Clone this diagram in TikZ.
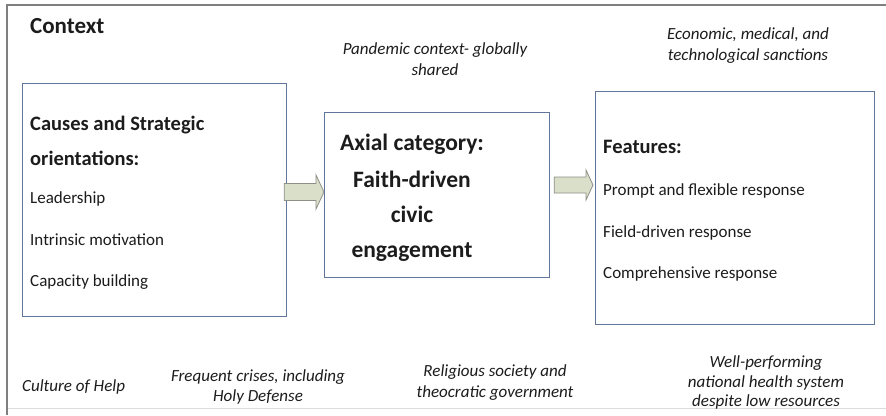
\documentclass[tikz,border=0pt]{standalone}
\usepackage{fontspec}
\setmainfont{Carlito}
\usetikzlibrary{calc}
\definecolor{boxline}{HTML}{61769B}
\definecolor{arrowfill}{HTML}{D9DFC8}
\definecolor{arrowline}{HTML}{8E9088}
\definecolor{framegray}{HTML}{7F7F7F}
\definecolor{framelight}{HTML}{DCDCDC}
\definecolor{ink}{HTML}{1C1C1C}
\begin{document}
\begin{tikzpicture}[x=1pt,y=-1pt,
  panel/.style={draw=boxline,line width=1.2pt,fill=white,inner sep=0pt,anchor=north west},
  title/.style={anchor=base west,inner sep=0pt,font=\fontsize{23}{28}\selectfont\bfseries,text=ink},
  boxhead/.style={anchor=base west,inner sep=0pt,font=\fontsize{20.5}{24}\selectfont\bfseries,text=ink},
  item/.style={anchor=base west,inner sep=0pt,font=\fontsize{17}{20}\selectfont,text=ink},
  axial/.style={anchor=base,inner sep=0pt,font=\fontsize{23.5}{28}\selectfont\bfseries,text=ink},
  note/.style={anchor=base,inner sep=0pt,font=\fontsize{17}{21}\selectfont\itshape,text=ink},
  blockarrow/.style={fill=arrowfill,draw=arrowline,line width=0.8pt,line join=miter}]
\useasboundingbox (0,0) rectangle (886,415);
\fill[white] (0,0) rectangle (886,415);

% outer context frame
\draw[framelight,line width=1pt] (7,408) -- (886,408);
\draw[framegray,line width=2pt] (7,415) -- (7,5) -- (886,5);

\node[title] (ctx) at (30,33) {Context};

% the three panels
\node[panel,minimum width=264pt,minimum height=233pt] (cbox) at (22,83) {};
\node[panel,minimum width=225pt,minimum height=165pt] (abox) at (324,112) {};
\node[panel,minimum width=279pt,minimum height=233pt] (fbox) at (595,91) {};

% block arrows between the panels
\draw[blockarrow] let \p1=(cbox.east), \p2=(abox.west) in
  (\x1-3pt,-183.5pt) -- (\x2-8pt,-183.5pt) -- (\x2-8pt,-175pt) -- (\x2,-192pt)
  -- (\x2-8pt,-209pt) -- (\x2-8pt,-200.5pt) -- (\x1-3pt,-200.5pt) -- cycle;
\draw[blockarrow] let \p1=(abox.east), \p2=(fbox.west) in
  (\x1+4pt,-177pt) -- (\x2-9pt,-177pt) -- (\x2-9pt,-170pt) -- (\x2-2pt,-185pt)
  -- (\x2-9pt,-200pt) -- (\x2-9pt,-193pt) -- (\x1+4pt,-193pt) -- cycle;

% causes panel
\node[boxhead] (c1) at (30,130) {Causes and Strategic};
\node[boxhead] (c2) at (30,165) {orientations:};
\node[item] (c3) at (30,203) {Leadership};
\node[item] (c4) at (30,245) {Intrinsic motivation};
\node[item] (c5) at (30,286) {Capacity building};

% axial category panel
\node[axial] (a1) at (412,150) {Axial category:};
\node[axial] (a2) at (412,187) {Faith-driven};
\node[axial] (a3) at (412,222) {civic};
\node[axial] (a4) at (412,257) {engagement};

% features panel
\node[boxhead] (f1) at (603,153) {Features:};
\node[item] (f2) at (603,195) {Prompt and flexible response};
\node[item] (f3) at (603,237) {Field-driven response};
\node[item] (f4) at (603,278) {Comprehensive response};

% contextual conditions
\node[note] (p1) at (435,54) {Pandemic context- globally};
\node[note] (p2) at (435,75) {shared};
\node[note] (e1) at (748,39) {Economic, medical, and};
\node[note] (e2) at (748,60) {technological sanctions};
\node[note,anchor=base west] (h1) at (22,391) {Culture of Help};
\node[note] (q1) at (258,381) {Frequent crises, including};
\node[note] (q2) at (258,401) {Holy Defense};
\node[note] (r1) at (495,376) {Religious society and};
\node[note] (r2) at (495,397) {theocratic government};
\node[note] (w1) at (766,367) {Well-performing};
\node[note] (w2) at (766,387) {national health system};
\node[note] (w3) at (766,406) {despite low resources};
\end{tikzpicture}
\end{document}
